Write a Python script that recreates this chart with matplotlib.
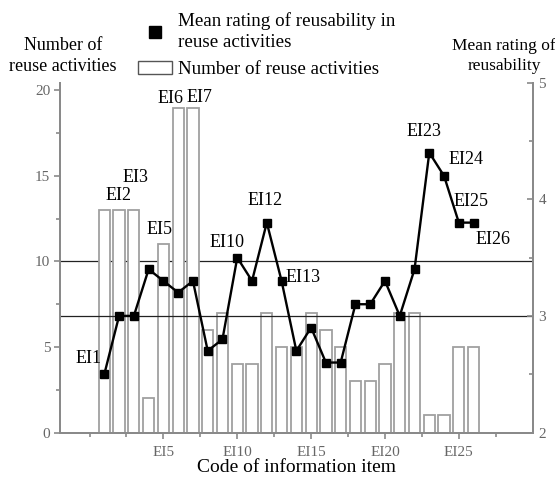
import numpy as np
import matplotlib
matplotlib.use('Agg')
import matplotlib.pyplot as plt
from matplotlib.lines import Line2D
from matplotlib.patches import Patch

# ── Data ──────────────────────────────────────────────────────────────────────
items = np.arange(1, 27)
n_reuse = [13, 13, 13, 2, 11, 19, 19, 6, 7, 4, 4, 7, 5, 5, 7, 6, 5,
           3, 3, 4, 7, 7, 1, 1, 5, 5]
mean_rating = [2.5, 3.0, 3.0, 3.4, 3.3, 3.2, 3.3, 2.7, 2.8, 3.5, 3.3, 3.8,
               3.3, 2.7, 2.9, 2.6, 2.6, 3.1, 3.1, 3.3, 3.0, 3.4, 4.4, 4.2,
               3.8, 3.8]
xtick_pos = [5, 10, 15, 20, 25]
xtick_lbl = ['EI5', 'EI10', 'EI15', 'EI20', 'EI25']

# point labels: item -> offset in pixels from the marker
point_labels = {1: (-16, 16), 2: (-1, 120), 3: (2, 138), 5: (-4, 51),
                6: (-8, 194), 7: (7, 183), 10: (-10, 15), 12: (-2, 22),
                13: (22, 3), 23: (-5, 21), 24: (22, 16), 25: (12, 21),
                26: (19, -17)}

# ── Style ─────────────────────────────────────────────────────────────────────
plt.rcParams['font.family'] = ['Liberation Serif', 'DejaVu Serif']
SPINE = '#8a8a8a'
TICKLBL = '#666666'
FS = 13

W, H = 555, 483
fig = plt.figure(figsize=(W / 100, H / 100), dpi=100)
ax = fig.add_axes([60 / W, 1 - 432.5 / H, 472.7 / W, 349.8 / H])
ax2 = ax.twinx()

# bars on the left axis
ax.bar(items, n_reuse, width=0.76, facecolor='white', edgecolor='#a0a0a0',
       linewidth=1.3, zorder=2)
ax.axhline(10, color='#222222', lw=0.9, zorder=1)
ax.set_xlim(-2, 30)
ax.set_ylim(0, 20.45)

# mean rating line on the right axis
ax2.axhline(3, color='#222222', lw=0.9, zorder=1)
ax2.plot(items, mean_rating, color='black', lw=1.7, marker='s', ms=5.5,
         zorder=3)
ax2.set_ylim(2, 5)

for i, (dx, dy) in point_labels.items():
    ax2.annotate(f'EI{i}', xy=(i, mean_rating[i - 1]), xytext=(dx, dy),
                 textcoords='offset pixels', ha='center', va='center',
                 fontsize=FS, color='black')

# ── Axes decoration ───────────────────────────────────────────────────────────
for a in (ax, ax2):
    a.spines['top'].set_visible(False)
    for s in ('left', 'right', 'bottom'):
        a.spines[s].set_color(SPINE)
        a.spines[s].set_linewidth(1.4)

ax.set_xticks(xtick_pos)
ax.set_xticklabels(xtick_lbl)
ax.set_xticks(np.arange(0, 30, 2.5), minor=True)
ax.set_yticks([0, 5, 10, 15, 20])
ax.set_yticks(np.arange(0, 20.1, 2.5), minor=True)
ax.tick_params(axis='both', which='major', direction='out', length=4,
               width=1.2, color=SPINE, labelsize=11, labelcolor=TICKLBL,
               pad=3)
ax.tick_params(axis='both', which='minor', direction='out', length=3,
               width=1.2, color=SPINE)
ax.tick_params(axis='x', which='major', pad=6)

ax2.set_yticks([2, 3, 4, 5])
ax2.set_yticks([2.5, 3.5, 4.5], minor=True)
ax2.tick_params(axis='y', which='major', direction='in', length=4,
                width=1.2, color=SPINE, labelsize=11, labelcolor=TICKLBL,
                pad=4)
ax2.tick_params(axis='y', which='minor', direction='in', length=3,
                width=1.2, color=SPINE)

ax.set_xlabel('Code of information item', fontsize=14, labelpad=0)

fig.text(63 / W, 1 - 56 / H, 'Number of\nreuse activities', fontsize=FS,
         ha='center', va='center', linespacing=1.35)
fig.text(504 / W, 1 - 56 / H, 'Mean rating of\nreusability', fontsize=12.5,
         ha='center', va='center', linespacing=1.4)

handles = [Line2D([], [], color='black', marker='s', ms=8, ls='none'),
           Patch(facecolor='white', edgecolor='#555555', linewidth=1.0)]
labels = ['Mean rating of reusability in\nreuse activities',
          'Number of reuse activities']
leg = fig.legend(handles, labels, loc='upper left',
                 bbox_to_anchor=(126 / W, 1 - 0 / H), frameon=False,
                 fontsize=13.7, handlelength=1.75, handleheight=0.72,
                 handletextpad=0.35, labelspacing=0.5, borderpad=0.15)
for t in leg.get_texts():
    t.set_linespacing(1.3)

fig.savefig('out.png', dpi=100)
